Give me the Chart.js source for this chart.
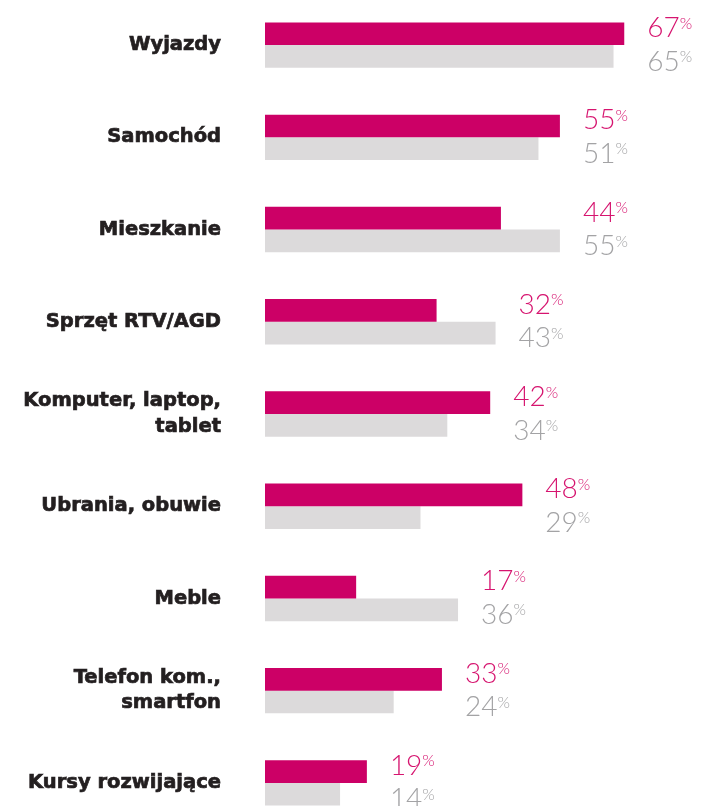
<!DOCTYPE html>
<html lang="pl">
<head>
<meta charset="utf-8">
<title>Wydatki</title>
<script src="https://cdn.jsdelivr.net/npm/chart.js@4.4.1/dist/chart.umd.min.js"></script>
<style>
  html, body { margin: 0; padding: 0; background: #fff; overflow: hidden; }
  #wrap { position: absolute; left: 0; top: -1px; width: 702px; height: 830px; }
</style>
</head>
<body>
<div id="wrap"><canvas id="chartCanvas"></canvas></div>
<script>
// Kategorie (etykiety po lewej) - tablica = etykieta w dwóch liniach
var categories = [
    'Wyjazdy',
    'Samochód',
    'Mieszkanie',
    'Sprzęt RTV/AGD',
    ['Komputer, laptop,', 'tablet'],
    'Ubrania, obuwie',
    'Meble',
    ['Telefon kom.,', 'smartfon'],
    'Kursy rozwijające'
]

// Wartości w procentach dla obu serii
var seriesA = [67, 55, 44, 32, 42, 48, 17, 33, 19]
var seriesB = [65, 51, 55, 43, 34, 29, 36, 24, 14]

// Kolory
var barPink = '#cc0066'
var barGray = '#dcdadb'
var textPink = '#d6146f'
var textGray = '#a3a3a5'
var labelDark = '#231f20'

// Górna granica osi X (oś jest ukryta)
var xMax = 81.5

// Rysuje liczbę z małym znakiem % w indeksie górnym
function drawPercent(ctx, value, x, baseline, color) {
    var txt = String(value)
    ctx.save()
    ctx.fillStyle = color
    ctx.textAlign = 'left'
    ctx.textBaseline = 'alphabetic'
    ctx.font = '300 28px Lato'
    ctx.fillText(txt, x, baseline)
    var w = ctx.measureText(txt).width
    ctx.font = '300 16px Lato'
    ctx.fillText('%', x + w, baseline - 8.5)
    ctx.restore()
}

// Plugin: etykiety z wartościami na prawo od słupków
var valueLabels = {
    id: 'valueLabels',
    afterDatasetsDraw(chart) {
        var ctx = chart.ctx
        var xs = chart.scales.x
        var ys = chart.scales.y
        categories.forEach((c, i) => {
            var a = seriesA[i]
            var b = seriesB[i]
            var left = xs.getPixelForValue(Math.max(a, b)) + 23
            var mid = ys.getPixelForValue(i)
            drawPercent(ctx, a, left, mid - 8, textPink)
            drawPercent(ctx, b, left, mid + 25.5, textGray)
        })
    }
}

const canvasChart = document.getElementById('chartCanvas')
var myChart = new Chart(canvasChart, {
    type: 'bar',
    data: {
        labels: categories,
        datasets: [
            {
                label: 'Seria 1',
                data: seriesA,
                backgroundColor: barPink,
                barPercentage: 1,
                categoryPercentage: 0.492
            },
            {
                label: 'Seria 2',
                data: seriesB,
                backgroundColor: barGray,
                barPercentage: 1,
                categoryPercentage: 0.492
            }
        ]
    },
    options: {
        indexAxis: 'y',
        responsive: true,
        maintainAspectRatio: false,
        animation: false,
        layout: { padding: 0 },
        plugins: {
            legend: { display: false },
            tooltip: { enabled: false }
        },
        scales: {
            x: {
                type: 'linear',
                min: 0,
                max: xMax,
                display: false
            },
            y: {
                grid: { display: false, drawTicks: false },
                border: { display: false },
                ticks: {
                    color: labelDark,
                    padding: 44,
                    textStrokeColor: labelDark,
                    textStrokeWidth: 0.7,
                    font: { family: 'DejaVu Sans', weight: 'bold', size: 19.5, lineHeight: 1.3 }
                },
                // lewa kolumna z etykietami ma stałą szerokość, bez marginesów góra/dół
                afterFit(scale) {
                    scale.width = 265
                    scale.paddingTop = 0
                    scale.paddingBottom = 0
                }
            }
        }
    },
    plugins: [valueLabels]
})
</script>
</body>
</html>
